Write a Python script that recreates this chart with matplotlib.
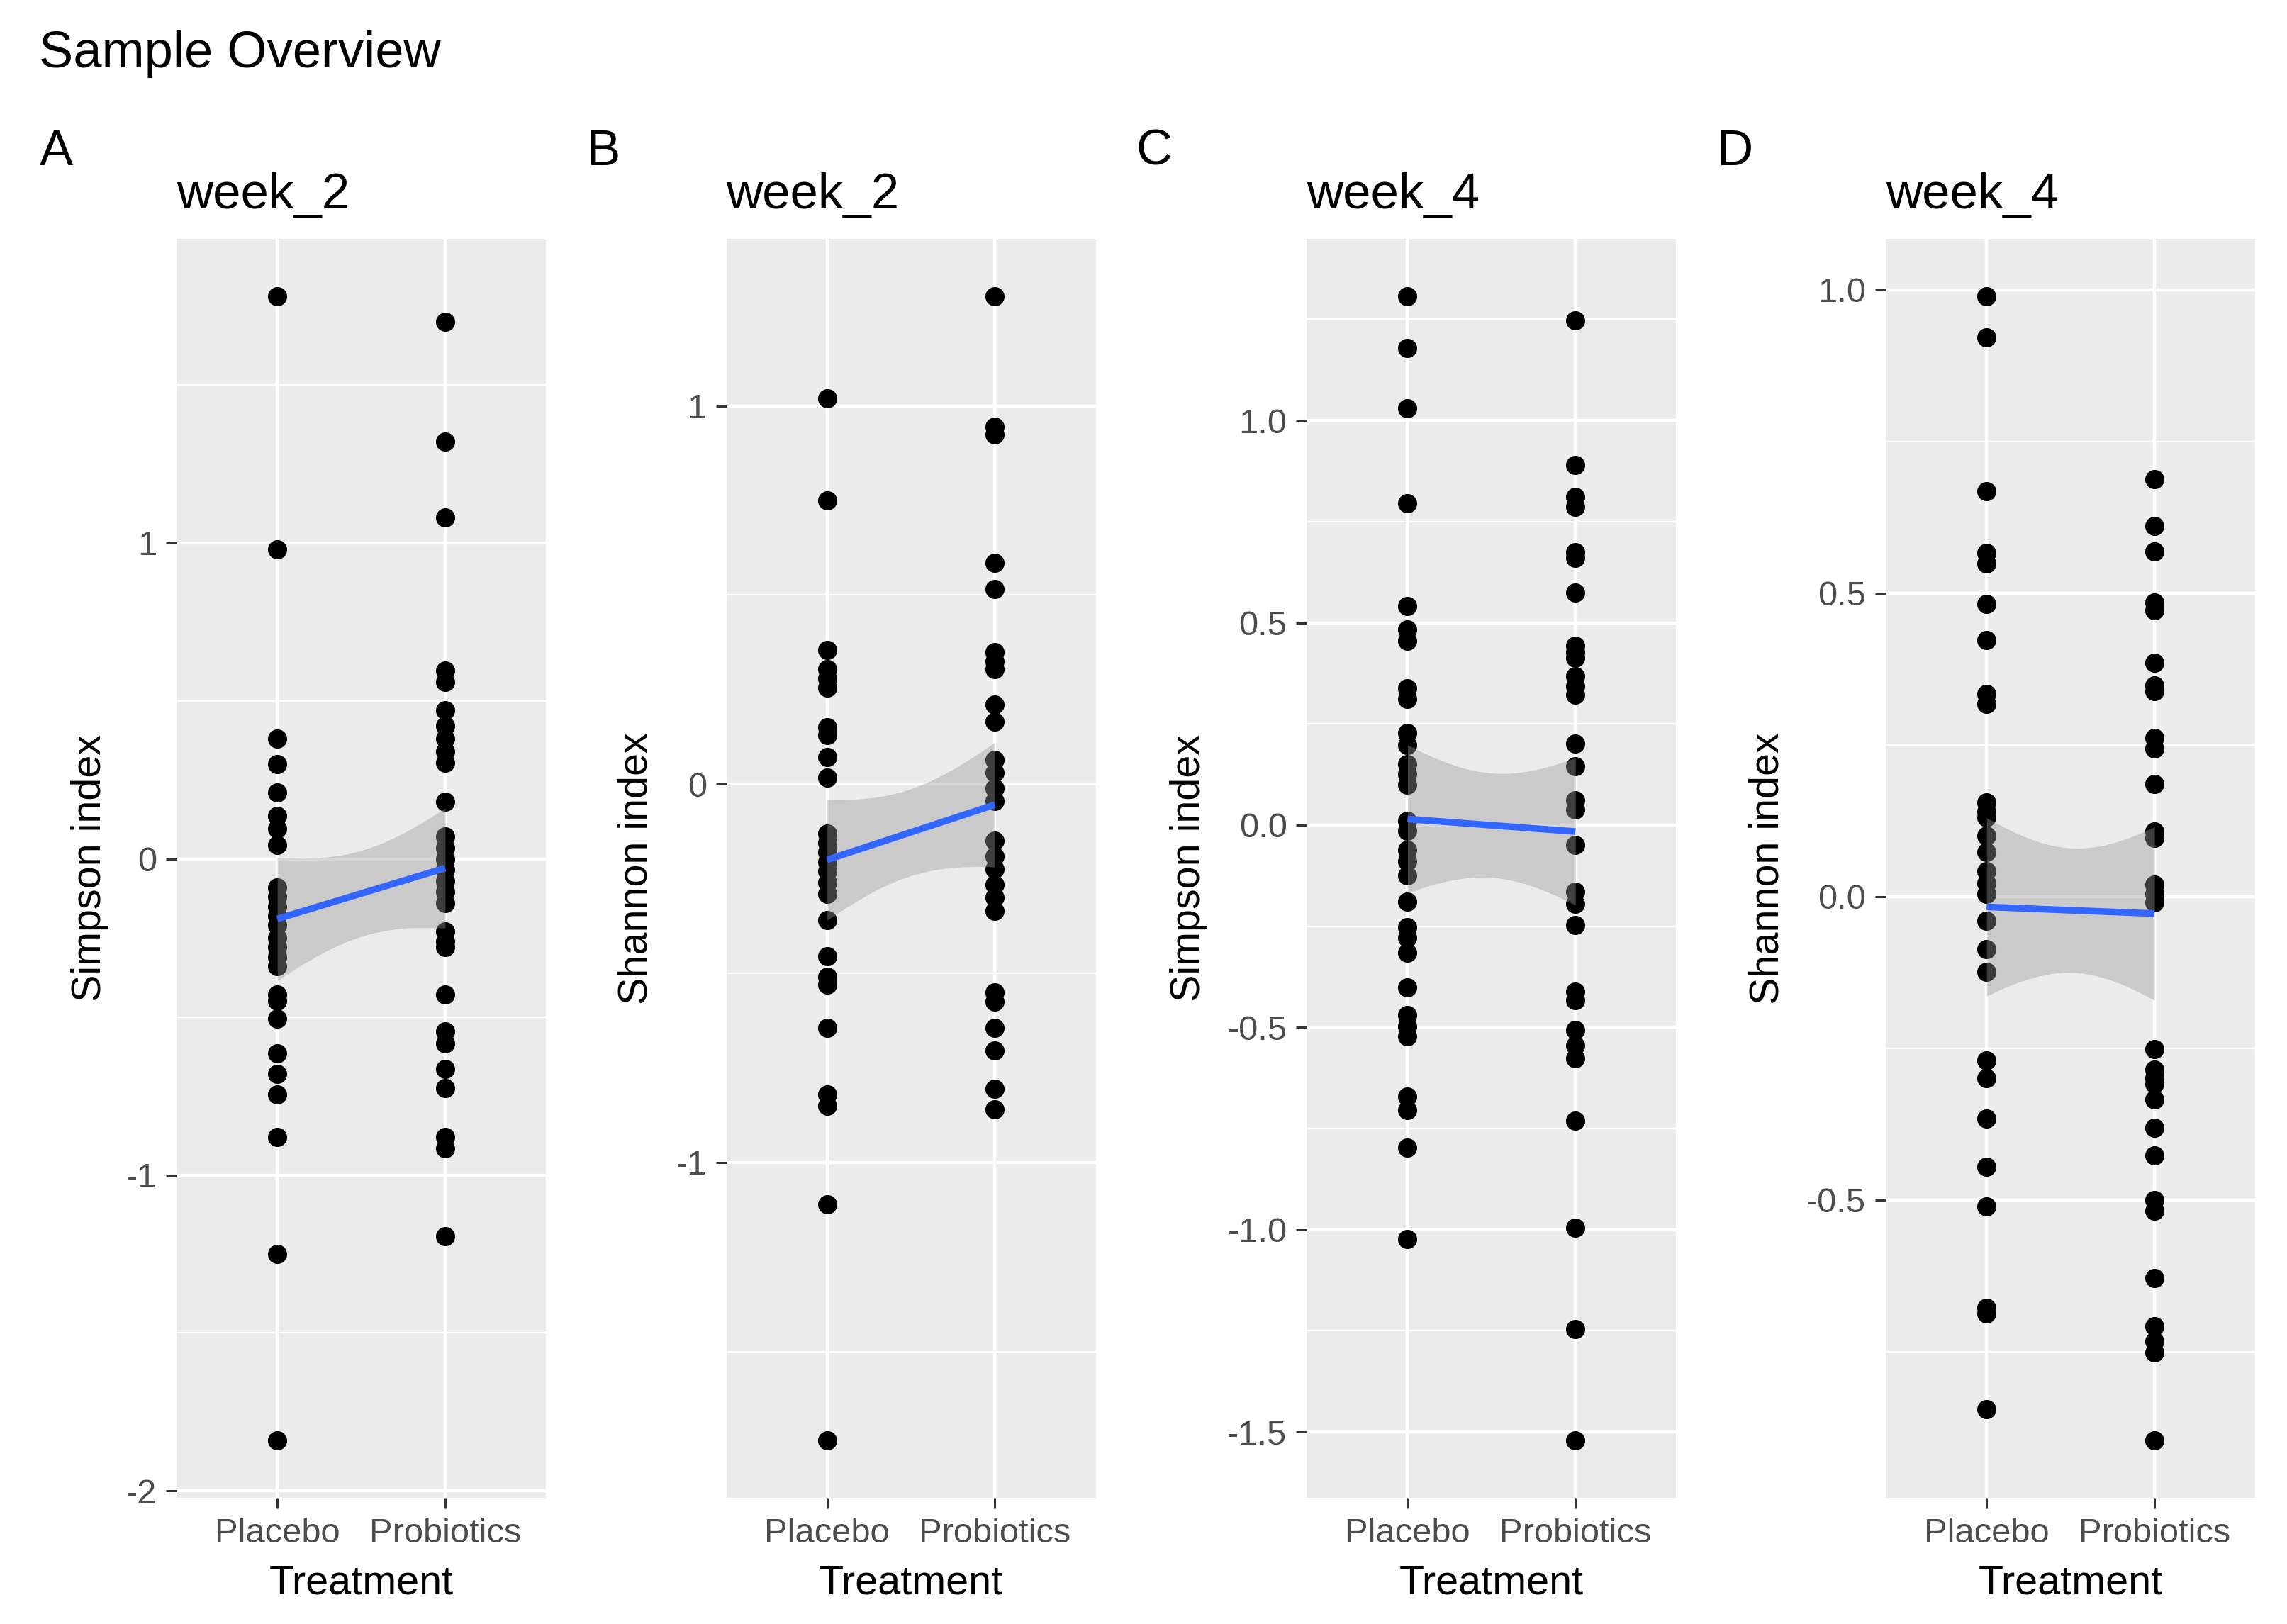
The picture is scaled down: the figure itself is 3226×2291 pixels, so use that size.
import numpy as np
import matplotlib
matplotlib.use("Agg")
import matplotlib.pyplot as plt

plt.rcParams['font.family'] = ['Liberation Sans', 'DejaVu Sans']
plt.rcParams['axes.unicode_minus'] = False

groups = ['Placebo', 'Probiotics']
panel_letters = ['A', 'B', 'C', 'D']
panel_titles = ['week_2', 'week_2', 'week_4', 'week_4']
y_labels = ['Simpson index', 'Shannon index', 'Simpson index', 'Shannon index']

# points per panel, per group
a_placebo = [1.78, 0.98, 0.38, 0.30, 0.21, 0.135, 0.095, 0.045, -0.09, -0.12, -0.15, -0.18,
             -0.21, -0.25, -0.28, -0.31, -0.34, -0.43, -0.45, -0.505, -0.615, -0.68, -0.745,
             -0.88, -1.25, -1.84]
a_probiotics = [1.70, 1.32, 1.08, 0.595, 0.56, 0.47, 0.42, 0.38, 0.34, 0.305, 0.18, 0.07, 0.035,
                0.0, -0.035, -0.07, -0.105, -0.14, -0.23, -0.26, -0.28, -0.43, -0.545, -0.585,
                -0.665, -0.725, -0.88, -0.915, -1.195]
b_placebo = [1.02, 0.75, 0.355, 0.305, 0.28, 0.255, 0.15, 0.13, 0.072, 0.018, -0.13, -0.155,
             -0.18, -0.205, -0.23, -0.26, -0.29, -0.36, -0.455, -0.51, -0.53, -0.645, -0.82,
             -0.85, -1.11, -1.735]
b_probiotics = [1.29, 0.945, 0.925, 0.585, 0.515, 0.35, 0.325, 0.305, 0.21, 0.165, 0.065, 0.03,
                -0.01, -0.045, -0.15, -0.19, -0.225, -0.265, -0.30, -0.335, -0.55, -0.575,
                -0.645, -0.705, -0.805, -0.86]
c_placebo = [1.307, 1.179, 1.03, 0.796, 0.541, 0.484, 0.456, 0.338, 0.312, 0.227, 0.197, 0.151,
             0.126, 0.10, 0.01, -0.015, -0.062, -0.09, -0.125, -0.19, -0.253, -0.279, -0.316,
             -0.401, -0.47, -0.497, -0.523, -0.672, -0.704, -0.797, -1.024]
c_probiotics = [1.247, 0.89, 0.811, 0.786, 0.675, 0.66, 0.575, 0.444, 0.428, 0.413, 0.368, 0.343,
                0.323, 0.202, 0.146, 0.062, 0.038, -0.05, -0.165, -0.195, -0.247, -0.412,
                -0.433, -0.507, -0.545, -0.576, -0.73, -0.996, -1.245, -1.521]
d_placebo = [0.989, 0.921, 0.668, 0.566, 0.549, 0.482, 0.422, 0.334, 0.318, 0.155, 0.14, 0.13,
             0.10, 0.073, 0.042, 0.022, 0.005, -0.04, -0.087, -0.124, -0.27, -0.299, -0.366,
             -0.445, -0.51, -0.677, -0.687, -0.845]
d_probiotics = [0.688, 0.611, 0.569, 0.485, 0.472, 0.385, 0.348, 0.338, 0.261, 0.244, 0.186,
                0.107, 0.097, 0.02, 0.005, -0.009, -0.251, -0.285, -0.299, -0.309, -0.334,
                -0.381, -0.427, -0.5, -0.518, -0.629, -0.708, -0.733, -0.751, -0.896]

# lm fit at each group and half width of the 95% band
a_fit, a_ci = [-0.19, -0.029], [0.195, 0.19]
b_fit, b_ci = [-0.20, -0.054], [0.16, 0.165]
c_fit, c_ci = [0.015, -0.016], [0.183, 0.182]
d_fit, d_ci = [-0.017, -0.028], [0.147, 0.143]

a_ticks = [-2, -1, 0, 1]
b_ticks = [-1, 0, 1]
c_ticks = [-1.5, -1.0, -0.5, 0.0, 0.5, 1.0]
d_ticks = [-0.5, 0.0, 0.5, 1.0]
a_labels = ['-2', '-1', '0', '1']
b_labels = ['-1', '0', '1']
c_labels = ['-1.5', '-1.0', '-0.5', '0.0', '0.5', '1.0']
d_labels = ['-0.5', '0.0', '0.5', '1.0']

panels = [
    (a_placebo, a_probiotics, a_fit, a_ci, a_ticks, a_labels),
    (b_placebo, b_probiotics, b_fit, b_ci, b_ticks, b_labels),
    (c_placebo, c_probiotics, c_fit, c_ci, c_ticks, c_labels),
    (d_placebo, d_probiotics, d_fit, d_ci, d_ticks, d_labels),
]

fig = plt.figure(figsize=(16.13, 11.455), dpi=200)
fig.patch.set_facecolor('white')

lefts = [0.0772, 0.3176, 0.5714, 0.8246]
ylab_x = [0.0395, 0.2781, 0.5198, 0.7730]
letter_x = [0.0172, 0.2564, 0.4968, 0.7506]
width, bottom, height = 0.1615, 0.0778, 0.775

fig.text(0.0172, 0.9587, 'Sample Overview', fontsize=26, ha='left', va='baseline')

for i, (pl, pr, fit, ci, ticks, tlabels) in enumerate(panels):
    ax = fig.add_axes([lefts[i], bottom, width, height])
    ax.set_facecolor('#EBEBEB')
    for s in ax.spines.values():
        s.set_visible(False)

    ax.scatter([1] * len(pl), pl, s=95, color='black', linewidths=0, zorder=3)
    ax.scatter([2] * len(pr), pr, s=95, color='black', linewidths=0, zorder=3)

    # linear fit between the two groups with its confidence band
    xs = np.linspace(1, 2, 100)
    yfit = fit[0] * (2 - xs) + fit[1] * (xs - 1)
    half = np.sqrt((ci[0] * (2 - xs)) ** 2 + (ci[1] * (xs - 1)) ** 2)
    ax.fill_between(xs, yfit - half, yfit + half, color='#999999', alpha=0.4,
                    linewidth=0, zorder=4)
    ax.plot(xs, yfit, color='#3366FF', linewidth=3.4, zorder=5, solid_capstyle='butt')

    ax.set_yticks(ticks)
    ax.set_yticklabels(tlabels)
    step = ticks[1] - ticks[0]
    minor = [ticks[0] - step / 2] + [t + step / 2 for t in ticks]
    ax.set_yticks(minor, minor=True)
    ax.set_xticks([1, 2])
    ax.set_xticklabels(groups)

    allv = pl + pr
    lo, hi = min(allv), max(allv)
    pad = (hi - lo) * 0.05
    ax.set_ylim(lo - pad, hi + pad)
    ax.set_xlim(0.4, 2.6)

    ax.grid(True, which='major', color='white', linewidth=1.6, zorder=0)
    ax.grid(True, which='minor', axis='y', color='white', linewidth=0.8, zorder=0)
    ax.set_axisbelow(True)
    ax.tick_params(which='major', length=5.5, width=1.1, color='#333333',
                   labelsize=17.6, labelcolor='#4D4D4D', pad=4.5)
    ax.tick_params(which='minor', length=0)

    cx = lefts[i] + width / 2
    fig.text(cx, 0.0185, 'Treatment', fontsize=20.7, ha='center', va='baseline')
    fig.text(ylab_x[i], bottom + height / 2, y_labels[i], fontsize=20.7, rotation=90,
             ha='center', va='center')
    fig.text(letter_x[i], 0.8985, panel_letters[i], fontsize=25.5, ha='left', va='baseline')
    fig.text(lefts[i], 0.8716, panel_titles[i], fontsize=25.5, ha='left', va='baseline')

fig.savefig('out.png', dpi=200)
